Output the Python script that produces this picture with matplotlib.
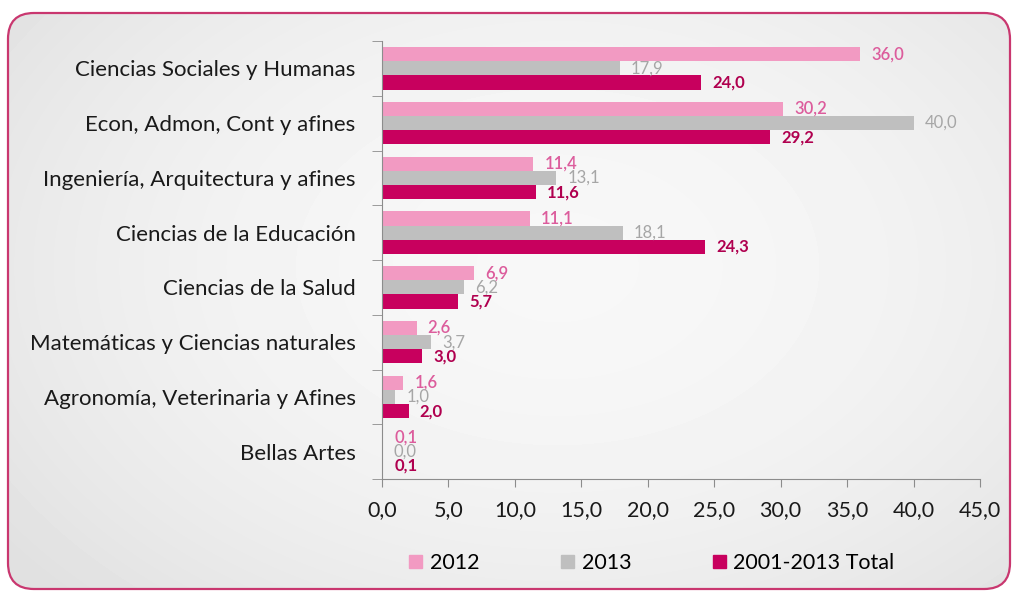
import numpy as np
import matplotlib
matplotlib.use("Agg")
import matplotlib.pyplot as plt
from matplotlib.patches import FancyBboxPatch, Patch
from matplotlib.ticker import FuncFormatter

plt.rcParams['font.family'] = ['Lato', 'DejaVu Sans']

# datos
categorias = ["Ciencias Sociales y Humanas", "Econ, Admon, Cont y afines",
              "Ingeniería, Arquitectura y afines", "Ciencias de la Educación",
              "Ciencias de la Salud", "Matemáticas y Ciencias naturales",
              "Agronomía, Veterinaria y Afines", "Bellas Artes"]
v2012 = [36.0, 30.2, 11.4, 11.1, 6.9, 2.6, 1.6, 0.1]
v2013 = [17.9, 40.0, 13.1, 18.1, 6.2, 3.7, 1.0, 0.0]
vtotal = [24.0, 29.2, 11.6, 24.3, 5.7, 3.0, 2.0, 0.1]
series = ["2012", "2013", "2001-2013 Total"]

col_barras = ["#f29ac2", "#bfbfbf", "#c8005e"]
col_etiq = ["#dc5c9c", "#a6a6a6", "#b0004f"]
peso_etiq = ["semibold", "normal", "bold"]

W, H = 1013, 592
fig = plt.figure(figsize=(W / 100, H / 100), dpi=100)
fig.patch.set_facecolor("white")

# fondo con degradado dentro del recuadro redondeado
bg = fig.add_axes([0, 0, 1, 1], zorder=-1)
bg.set_xlim(0, W)
bg.set_ylim(H, 0)
bg.axis("off")
yy, xx = np.mgrid[0:H, 0:W]
r2 = ((xx - W * 0.55) / (W * 0.6)) ** 2 + ((yy - H * 0.45) / (H * 0.7)) ** 2
img = np.clip(0.97 - 0.07 * r2, 0.88, 1.0)
caja = FancyBboxPatch((8, 13), 1002, 576, boxstyle="round,pad=0,rounding_size=26",
                      facecolor="none", edgecolor="#c9376f", linewidth=1.6)
bg.add_patch(caja)
im = bg.imshow(img, cmap="gray", vmin=0, vmax=1, extent=(0, W, H, 0), aspect="auto")
im.set_clip_path(caja)

ax = fig.add_axes([382 / W, 1 - 479 / H, (980 - 382) / W, (479 - 41) / H])
ax.patch.set_alpha(0)

y = np.arange(len(categorias))
h = 0.26
for i, vals in enumerate([v2012, v2013, vtotal]):
    pos = y + (i - 1) * h
    ax.barh(pos, vals, height=h, color=col_barras[i], label=series[i])
    for p, v in zip(pos, vals):
        ax.annotate(f"{v:.1f}".replace(".", ","), (v, p), xytext=(8, 0),
                    textcoords="offset points", va="center", ha="left",
                    fontsize=12, color=col_etiq[i], fontweight=peso_etiq[i])

ax.set_xlim(0, 45)
ax.set_ylim(len(categorias) - 0.5, -0.5)
ax.set_xticks(np.arange(0, 46, 5))
ax.xaxis.set_major_formatter(FuncFormatter(lambda v, _: f"{v:.1f}".replace(".", ",")))
ax.set_yticks(y)
ax.set_yticklabels(categorias)
ax.set_yticks(np.arange(-0.5, len(categorias), 1), minor=True)
ax.tick_params(axis="y", which="major", length=0, pad=19, labelsize=16, labelcolor="#1a1a1a")
ax.tick_params(axis="y", which="minor", length=7, color="#8c8c8c")
ax.tick_params(axis="x", length=6, color="#8c8c8c", pad=9, labelsize=15.5, labelcolor="#1a1a1a")
for s in ["top", "right"]:
    ax.spines[s].set_visible(False)
for s in ["left", "bottom"]:
    ax.spines[s].set_color("#8c8c8c")

handles = [Patch(color=c) for c in col_barras]
fig.legend(handles, series, loc="center", bbox_to_anchor=(652 / W, 1 - 563 / H), ncol=3,
           frameon=False, fontsize=15.5, handlelength=0.6, handleheight=0.6,
           handletextpad=0.35, columnspacing=3.8)

fig.savefig("out.png", dpi=100)
